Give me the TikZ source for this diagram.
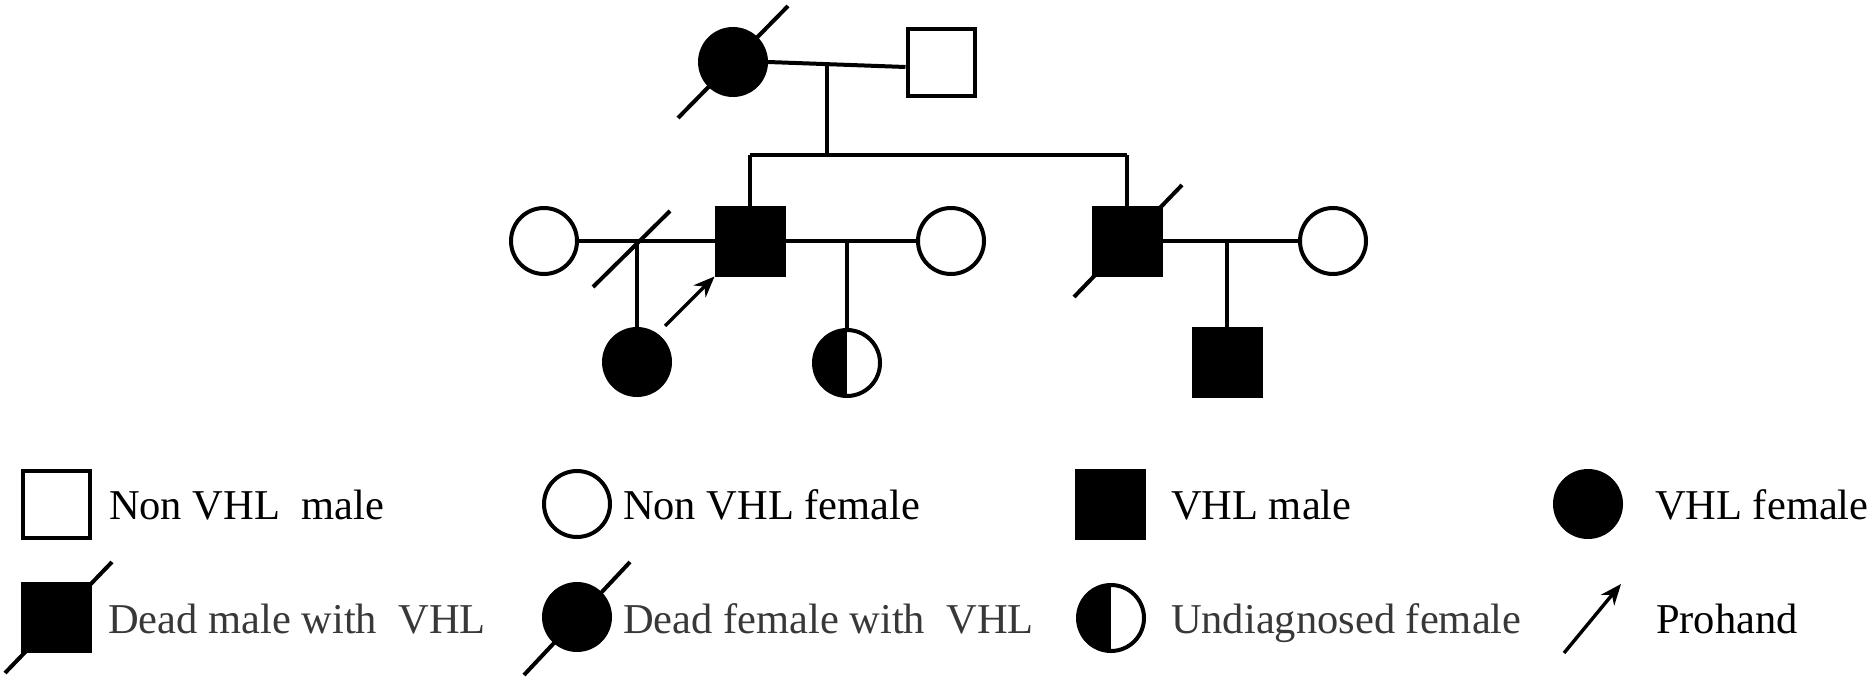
\documentclass[tikz,border=0pt]{standalone}
\usepackage{fontspec}
\setmainfont{Liberation Serif}
\usetikzlibrary{arrows.meta}

\definecolor{deadgray}{HTML}{383838}

\begin{document}
\begin{tikzpicture}[x=1pt,y=-1pt,line width=4pt,
    male/.style={rectangle,draw,minimum size=67pt,inner sep=0pt},
    female/.style={circle,draw,minimum size=66pt,inner sep=0pt},
    vhl/.style={fill=black},
    halfvhl/.style={path picture={\fill[black] (path picture bounding box.south west) rectangle (path picture bounding box.north);}},
    legtext/.style={anchor=base west,inner sep=0pt,font=\fontsize{42.5}{50}\selectfont},
    proband/.style={-{Stealth[length=21pt,width=17pt]},line width=3.4pt}]
    \useasboundingbox (0,0) rectangle (1873,682);

    % generation I
    \node[female,vhl] (I1) at (733,62) {};
    \node[male] (I2) at (941,63) {};
    \draw (I1.center) ++(-55,56) -- ++(110,-112);
    \draw (I1.east) -- (I2.west |- 0,67);
    \coordinate (m1) at (827,65);
    \coordinate (s1) at (827,155);

    % generation II
    \node[female] (II1) at (544,241) {};
    \node[male,vhl] (II2) at (750,241) {};
    \node[female] (II3) at (951,241) {};
    \node[male,vhl] (II4) at (1127,241) {};
    \node[female] (II5) at (1333,241) {};
    \draw (II4.center) ++(-53,56) -- ++(108,-112);

    \draw (m1) -- (s1);
    \draw (II2.north |- s1) -- (II4.north |- s1);
    \draw (II2.north |- s1) -- (II2.north);
    \draw (II4.north |- s1) -- (II4.north);

    \draw (II1) -- (II2);
    \draw (II2) -- (II3);
    \draw (II4) -- (II5);
    \coordinate (m2) at (637,241);
    \coordinate (m3) at (847,241);
    \coordinate (m4) at (1227,241);
    \draw (m2) ++(-44,46) -- ++(77,-76);

    % generation III
    \node[female,vhl] (III1) at (637,362) {};
    \node[female,halfvhl] (III2) at (847,363) {};
    \node[male,vhl] (III3) at (1227,362) {};
    \draw (m2) -- (III1);
    \draw (m3) -- (III2);
    \draw (m4) -- (III3);

    \coordinate (p1) at (665,326);
    \draw[proband] (p1) -- (II2.south west);

    % legend
    \node[male] (L1) at (56,504) {};
    \node[legtext] (T1) at (107,519) {Non VHL\ \ male};
    \node[female] (L2) at (577,504) {};
    \node[legtext] (T2) at (621,519) {Non VHL female};
    \node[male,vhl] (L3) at (1110,504) {};
    \node[legtext] (T3) at (1169,519) {VHL male};
    \node[female,vhl] (L4) at (1588,504) {};
    \node[legtext] (T4) at (1653,519) {VHL female};

    \node[male,vhl] (L5) at (56,617) {};
    \draw (L5.center) ++(-51,56) -- ++(107,-111);
    \node[legtext,text=deadgray] (T5) at (106,633) {Dead male with\ \ VHL};
    \node[female,vhl] (L6) at (577,617) {};
    \draw (L6.center) ++(-53,58) -- ++(106,-113);
    \node[legtext,text=deadgray] (T6) at (621,633) {Dead female with\ \ VHL};
    \node[female,halfvhl] (L7) at (1111,618) {};
    \node[legtext,text=deadgray] (T7) at (1169,633) {Undiagnosed female};
    \coordinate (L8a) at (1564,653);
    \coordinate (L8b) at (1621,584);
    \draw[proband] (L8a) -- (L8b);
    \node[legtext] (T8) at (1654,633) {Prohand};
\end{tikzpicture}
\end{document}
